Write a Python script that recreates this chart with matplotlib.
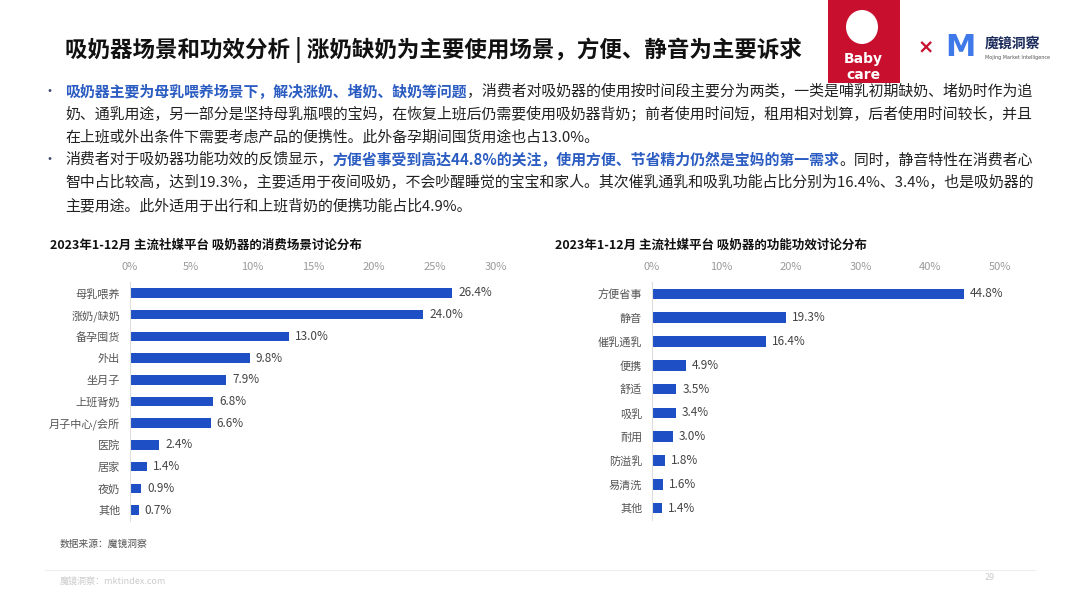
import matplotlib
matplotlib.use('Agg')
import matplotlib.pyplot as plt
from matplotlib.patches import Rectangle, Ellipse
from matplotlib.lines import Line2D

plt.rcParams['font.family'] = ['Noto Sans CJK SC', 'DejaVu Sans']

# ---- data ----
scene_labels = ['母乳喂养', '涨奶/缺奶', '备孕囤货', '外出', '坐月子', '上班背奶',
                '月子中心/会所', '医院', '居家', '夜奶', '其他']
scene_values = [26.4, 24.0, 13.0, 9.8, 7.9, 6.8, 6.6, 2.4, 1.4, 0.9, 0.7]
scene_ticks = [0, 5, 10, 15, 20, 25, 30]

func_labels = ['方便省事', '静音', '催乳通乳', '便携', '舒适', '吸乳', '耐用',
               '防溢乳', '易清洗', '其他']
func_values = [44.8, 19.3, 16.4, 4.9, 3.5, 3.4, 3.0, 1.8, 1.6, 1.4]
func_ticks = [0, 10, 20, 30, 40, 50]

title = '吸奶器场景和功效分析 | 涨奶缺奶为主要使用场景，方便、静音为主要诉求'
left_title = '2023年1-12月 主流社媒平台 吸奶器的消费场景讨论分布'
right_title = '2023年1-12月 主流社媒平台 吸奶器的功能功效讨论分布'

# each line: list of (text, highlighted)
bullet_lines = [
    [('吸奶器主要为母乳喂养场景下，解决涨奶、堵奶、缺奶等问题', True),
     ('，消费者对吸奶器的使用按时间段主要分为两类，一类是哺乳初期缺奶、堵奶时作为追', False)],
    [('奶、通乳用途，另一部分是坚持母乳瓶喂的宝妈，在恢复上班后仍需要使用吸奶器背奶；前者使用时间短，租用相对划算，后者使用时间较长，并且', False)],
    [('在上班或外出条件下需要考虑产品的便携性。此外备孕期间囤货用途也占13.0%。', False)],
    [('消费者对于吸奶器功能功效的反馈显示，', False),
     ('方便省事受到高达44.8%的关注，使用方便、节省精力仍然是宝妈的第一需求', True),
     ('。同时，静音特性在消费者心', False)],
    [('智中占比较高，达到19.3%，主要适用于夜间吸奶，不会吵醒睡觉的宝宝和家人。其次催乳通乳和吸乳功能占比分别为16.4%、3.4%，也是吸奶器的', False)],
    [('主要用途。此外适用于出行和上班背奶的便携功能占比4.9%。', False)],
]
bullet_starts = [0, 3]

BAR = '#1f4fc4'
HL = '#2b5cc2'
W, H = 1080, 608

fig = plt.figure(figsize=(10.8, 6.08), dpi=100)
fig.patch.set_facecolor('white')


def fx(px):
    return px / W


def fy(py):
    return 1 - py / H


# title
fig.text(fx(65), fy(50), title, fontsize=16.2, fontweight='bold', color='#111111',
         ha='left', va='center')

# babycare logo block
fig.add_artist(Rectangle((fx(828), fy(83)), fx(900) - fx(828), fy(0) - fy(83),
                         transform=fig.transFigure, facecolor='#c8102e', edgecolor='none'))
fig.add_artist(Ellipse((fx(862), fy(27)), 32 / W, 34 / H, transform=fig.transFigure,
                       facecolor='white', edgecolor='none'))
fig.text(fx(863), fy(59), 'Baby', fontsize=10, fontweight='bold', color='white',
         ha='center', va='center', family='DejaVu Sans')
fig.text(fx(863), fy(75), 'care', fontsize=10, fontweight='bold', color='white',
         ha='center', va='center', family='DejaVu Sans')
fig.text(fx(926), fy(48), '×', fontsize=14, fontweight='bold', color='#c8102e',
         ha='center', va='center', family='DejaVu Sans')
fig.text(fx(960), fy(48), 'M', fontsize=22, fontweight='bold', color='#3f78e8',
         ha='center', va='center', family='DejaVu Sans')
fig.text(fx(985), fy(44), '魔镜洞察', fontsize=10, fontweight='bold', color='#1a2a5a',
         ha='left', va='center')
fig.text(fx(985), fy(57), 'Mojing Market Intelligence', fontsize=3.5, color='#555555',
         ha='left', va='center', family='DejaVu Sans')

# bullet paragraph, segments chained one after another
line_y = [92, 114, 137, 160, 183, 206]
for i, segs in enumerate(bullet_lines):
    y = fy(line_y[i])
    if i in bullet_starts:
        fig.text(fx(42), y, '•', fontsize=10, color='#3a4a6a', ha='left', va='center')
    last = None
    for txt, hl in segs:
        kw = dict(fontsize=10.75, color=HL if hl else '#222222',
                  fontweight='bold' if hl else 'normal', ha='left', va='center')
        if last is None:
            last = fig.text(fx(65), y, txt, **kw)
        else:
            last = fig.add_artist(matplotlib.text.Annotation(
                txt, xy=(1, 0.5), xycoords=last, **kw))


def bar_panel(rect, labels, values, ticks, sub_title, title_x):
    ax = fig.add_axes(rect)
    y = list(range(len(labels)))
    ax.barh(y, values, height=0.44, color=BAR)
    ax.set_ylim(len(labels) - 0.5, -0.5)
    ax.set_xlim(ticks[0], ticks[-1])
    ax.set_xticks(ticks)
    ax.set_xticklabels([f'{t}%' for t in ticks], fontsize=8, color='#9a9a9a')
    ax.xaxis.tick_top()
    ax.set_yticks(y)
    ax.set_yticklabels(labels, fontsize=8, color='#555555')
    ax.tick_params(length=0, pad=7)
    for s in ['top', 'right', 'bottom']:
        ax.spines[s].set_visible(False)
    ax.spines['left'].set_color('#dddddd')
    ax.spines['left'].set_linewidth(0.8)
    span = ticks[-1] - ticks[0]
    for yi, v in zip(y, values):
        ax.text(v + span * 0.017, yi, f'{v:.1f}%', fontsize=8.5, color='#444444',
                ha='left', va='center')
    fig.text(fx(title_x), fy(245), sub_title, fontsize=9, fontweight='bold',
             color='#111111', ha='left', va='center')
    return ax


bar_panel([fx(130), fy(521), fx(496) - fx(130), fy(282) - fy(521)],
          scene_labels, scene_values, scene_ticks, left_title, 50)
bar_panel([fx(652), fy(520), fx(1000) - fx(652), fy(282) - fy(520)],
          func_labels, func_values, func_ticks, right_title, 555)

# footer
fig.text(fx(60), fy(544), '数据来源：魔镜洞察', fontsize=7, color='#555555',
         ha='left', va='center')
fig.add_artist(Line2D([fx(45), fx(1035)], [fy(570), fy(570)], transform=fig.transFigure,
                      color='#eeeeee', linewidth=0.8))
fig.text(fx(60), fy(582), '魔镜洞察：mktindex.com', fontsize=6.5, color='#cccccc',
         ha='left', va='center')
fig.text(fx(990), fy(578), '29', fontsize=6.5, color='#cccccc', ha='center', va='center')

fig.savefig('out.png', dpi=100, facecolor='white')
